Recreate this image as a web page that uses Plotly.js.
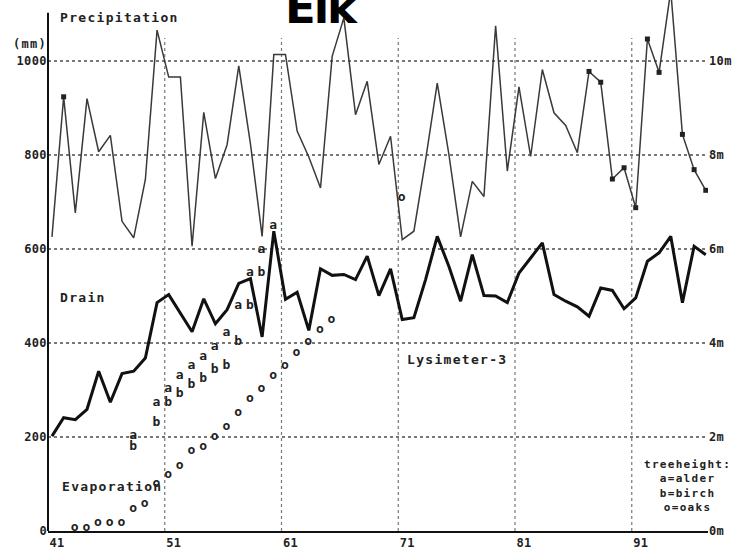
<!DOCTYPE html>
<html><head><meta charset="utf-8">
<script src="https://cdn.plot.ly/plotly-3.0.1.min.js"></script>
<style>
html,body{margin:0;padding:0;background:#fff;}
#chart{width:735px;height:549px;}
text{letter-spacing:1.3px;}
.main-svg .xtick text,.main-svg .ytick text,.main-svg .y2tick text{letter-spacing:0.4px;}
.main-svg .annotation[data-index="0"] text{letter-spacing:-2px;}
</style></head><body><div id="chart"></div>
<script>
const years = [41,42,43,44,45,46,47,48,49,50,51,52,53,54,55,56,57,58,59,60,61,62,63,64,65,66,67,68,69,70,71,72,73,74,75,76,77,78,79,80,81,82,83,84,85,86,87,88,89,90,91,92,93,94,95,96,97];
const precipitation = [626,924,677,920,807,842,659,624,748,1066,966,966,606,891,750,822,990,824,627,1014,1014,851,796,730,1010,1092,886,957,780,840,620,638,790,953,801,626,744,712,1075,766,945,797,982,890,863,805,978,955,749,773,688,1047,976,1150,844,769,725];
const drain = [202,241,237,259,340,274,335,340,368,486,503,464,424,494,441,471,527,537,413,638,493,508,427,558,544,546,535,585,501,558,450,454,535,627,563,489,588,501,500,486,549,581,613,503,489,477,457,517,512,473,496,574,592,627,486,606,588];
const markedYears = [42,87,88,89,90,91,92,93,95,96,97];
const alderYears = [48,50,51,52,53,54,55,56,57,58,59,60];
const alderHeight = [2.02,2.73,3.03,3.31,3.51,3.71,3.92,4.22,4.80,5.49,5.99,6.49];
const birchYears = [48,50,51,52,53,54,55,56,57,58,59];
const birchHeight = [1.80,2.31,2.73,2.93,3.12,3.24,3.44,3.51,4.02,4.80,5.49];
const oakYears = [43,44,45,46,47,48,49,50,51,52,53,54,55,56,57,58,59,60,61,62,63,64,65,71];
const oakHeight = [0.07,0.07,0.17,0.17,0.17,0.47,0.58,1.00,1.20,1.39,1.70,1.80,2.00,2.22,2.51,2.81,3.03,3.31,3.51,3.80,4.02,4.29,4.50,7.10];
const tickYears = [41,51,61,71,81,91];
const tickText = ['41','51','61','71','81','91'];
const leftTicks = [0,200,400,600,800,1000];
const rightTicks = [0,2,4,6,8,10];
const rightTickText = ['0m','2m','4m','6m','8m','10m'];
const legendLines = ['treeheight:', 'a=alder', 'b=birch', 'o=oaks'];

const MONO = 'DejaVu Sans Mono';
const INK = '#222';
const GRID_SHIFT = 0.34;
const L = 48, R = 27, T = 0, B = 18, W = 735, H = 549;
const PW = W - L - R, PH = H - T - B;
const px = v => (v - L) / PW;
const py = v => (H - B - v) / PH;

const markedPrecip = markedYears.map(y => precipitation[years.indexOf(y)]);
const charFont = {family: MONO, size: 13, weight: 'bold', color: INK};

const traces = [
  {x: years, y: precipitation, mode: 'lines', line: {color: '#3a3a3a', width: 1.5}, hoverinfo: 'skip'},
  {x: markedYears, y: markedPrecip, mode: 'markers', marker: {symbol: 'square', size: 5, color: INK}, hoverinfo: 'skip'},
  {x: years, y: drain, mode: 'lines', line: {color: '#111', width: 3}, hoverinfo: 'skip'},
  {x: alderYears, y: alderHeight, yaxis: 'y2', mode: 'text', text: alderYears.map(() => 'a'), textfont: charFont, cliponaxis: false, hoverinfo: 'skip'},
  {x: birchYears, y: birchHeight, yaxis: 'y2', mode: 'text', text: birchYears.map(() => 'b'), textfont: charFont, cliponaxis: false, hoverinfo: 'skip'},
  {x: oakYears, y: oakHeight, yaxis: 'y2', mode: 'text', text: oakYears.map(() => 'o'), textfont: charFont, cliponaxis: false, hoverinfo: 'skip'}
];

const gridShapes = tickYears.slice(1).map(yr => ({
  type: 'line', xref: 'x', yref: 'y', x0: yr - GRID_SHIFT, x1: yr - GRID_SHIFT, y0: 0, y1: 1049,
  line: {color: '#777', width: 1.2, dash: 'dot'}, layer: 'below'
}));
gridShapes.push({type: 'line', xref: 'paper', yref: 'y', x0: 0, x1: 0, y0: 0, y1: 1103, line: {color: '#111', width: 2}});

const labelFont = {family: MONO, size: 13, weight: 'bold', color: INK};
const tickFont = {family: MONO, size: 12, weight: 'bold', color: INK};
function lab(text, x, y, xanchor, font) {
  return {text: text, xref: 'paper', yref: 'paper', x: px(x), y: py(y), xanchor: xanchor || 'left', yanchor: 'middle', showarrow: false, font: font || labelFont};
}
const annotations = [
  {text: 'Elk', xref: 'paper', yref: 'paper', x: px(319.5), y: py(36), xanchor: 'center', yanchor: 'bottom', showarrow: false,
   font: {family: 'DejaVu Sans', size: 45, weight: 'bold', color: '#000'}},
  lab('Precipitation', 58, 17),
  lab('(mm)', 11, 44, 'left', tickFont),
  lab('Drain', 58, 297),
  lab('Evaporation', 60, 486),
  lab('Lysimeter-3', 405, 359),
  {text: legendLines.join('<br>'), xref: 'paper', yref: 'paper', x: px(687), y: py(456), xanchor: 'center', yanchor: 'top',
   align: 'center', showarrow: false, font: {family: MONO, size: 11, weight: 'bold', color: INK}}
];

const layout = {
  width: W, height: H,
  margin: {l: L, r: R, t: T, b: B},
  paper_bgcolor: '#fff', plot_bgcolor: '#fff',
  showlegend: false,
  xaxis: {
    range: [40.66, 97.19], tickvals: tickYears.map(v => v - GRID_SHIFT), ticktext: tickText,
    showgrid: false, zeroline: false, showline: true, linecolor: '#111', linewidth: 2,
    ticks: '', tickfont: tickFont, ticklabelshift: 9
  },
  yaxis: {
    range: [0, 1130], tickvals: leftTicks, showgrid: true, gridcolor: '#777', gridwidth: 1.2, griddash: 'dot',
    zeroline: false, showline: false, ticks: '', tickfont: tickFont
  },
  yaxis2: {
    range: [0, 11.30], overlaying: 'y', side: 'right', tickvals: rightTicks, ticktext: rightTickText,
    showgrid: false, zeroline: false, showline: false, ticks: '', tickfont: tickFont
  },
  shapes: gridShapes,
  annotations: annotations
};

Plotly.newPlot('chart', traces, layout, {staticPlot: true, displayModeBar: false});
</script></body></html>
